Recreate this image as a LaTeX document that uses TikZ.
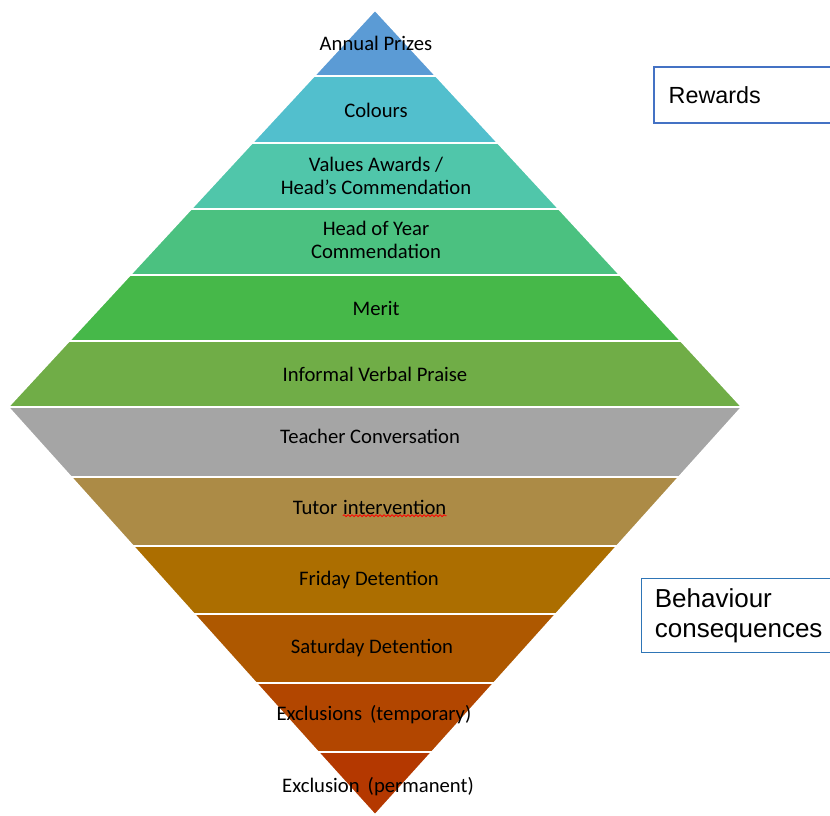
\documentclass[tikz,border=0pt]{standalone}
\usepackage{fontspec}
\setmainfont{Carlito}
\newfontfamily\arialfont{Liberation Sans}
\usetikzlibrary{positioning,decorations.pathmorphing}

\definecolor{cPrizes}{RGB}{91,155,213}
\definecolor{cColours}{RGB}{82,191,205}
\definecolor{cValues}{RGB}{80,198,170}
\definecolor{cHoy}{RGB}{75,193,128}
\definecolor{cMerit}{RGB}{70,184,73}
\definecolor{cPraise}{RGB}{112,173,71}
\definecolor{cTeacher}{RGB}{165,165,165}
\definecolor{cTutor}{RGB}{172,139,70}
\definecolor{cFriday}{RGB}{172,110,0}
\definecolor{cSaturday}{RGB}{174,88,0}
\definecolor{cTemp}{RGB}{178,70,0}
\definecolor{cPerm}{RGB}{180,56,0}
\definecolor{boxblue}{RGB}{68,114,196}
\definecolor{boxblue2}{RGB}{46,117,182}

\tikzset{
  band/.style={draw=white,line width=1.3pt},
  lbl/.style={align=center,inner sep=0pt,font=\fontsize{15.5}{17.5}\selectfont},
  keybox/.style={rectangle,draw,anchor=north west,align=left,text width=140pt,font=\arialfont},
  spellwave/.style={red,line width=0.6pt,decorate,decoration={snake,amplitude=0.7pt,segment length=3pt}}
}

\begin{document}
\begin{tikzpicture}[x=0.75pt,y=-0.75pt]
\useasboundingbox (0,0) rectangle (830,815);
\clip (0,0) rectangle (830,815);
\filldraw[band,fill=cPrizes] (375,10) -- (436,76) -- (314,76) -- cycle;
\filldraw[band,fill=cColours] (314,76) -- (436,76) -- (498,143) -- (252,143) -- cycle;
\filldraw[band,fill=cValues] (252,143) -- (498,143) -- (559,209) -- (191,209) -- cycle;
\filldraw[band,fill=cHoy] (191,209) -- (559,209) -- (620,275) -- (130,275) -- cycle;
\filldraw[band,fill=cMerit] (130,275) -- (620,275) -- (681,341) -- (69,341) -- cycle;
\filldraw[band,fill=cPraise] (69,341) -- (681,341) -- (742,407) -- (8,407) -- cycle;
\filldraw[band,fill=cTeacher] (8,407) -- (742,407) -- (679,477) -- (71,477) -- cycle;
\filldraw[band,fill=cTutor] (71,477) -- (679,477) -- (617,546) -- (133,546) -- cycle;
\filldraw[band,fill=cFriday] (133,546) -- (617,546) -- (556,614) -- (194,614) -- cycle;
\filldraw[band,fill=cSaturday] (194,614) -- (556,614) -- (494,683) -- (256,683) -- cycle;
\filldraw[band,fill=cTemp] (256,683) -- (494,683) -- (432,752) -- (318,752) -- cycle;
\filldraw[band,fill=cPerm] (318,752) -- (432,752) -- (375,815) -- cycle;

\node at (376,43) [lbl] (prizes) {Annual Prizes};
\node at (376,110) [lbl] (colours) {Colours};
\node at (376,176) [lbl] (values) {Values Awards /\\Head’s Commendation};
\node at (376,240) [lbl] (hoy) {Head of Year\\Commendation};
\node at (376,308) [lbl] (merit) {Merit};
\node at (375,374) [lbl] (praise) {Informal Verbal Praise};
\node at (370,436) [lbl] (teacher) {Teacher Conversation};
\node at (315,508) [lbl] (tutor) {Tutor};
\node [lbl,right=4pt of tutor.base east,anchor=base west] (interv) {intervention};
\draw [spellwave] ([yshift=-0.5pt]interv.south west) -- ([yshift=-0.5pt]interv.south east);
\node at (369,580) [lbl] (friday) {Friday Detention};
\node at (372,648) [lbl] (saturday) {Saturday Detention};
\node at (374,715) [lbl] (temp) {Exclusions\, (temporary)};
\node at (378,787) [lbl] (perm) {Exclusion\, (permanent)};

\node at (653,66) [keybox,draw=boxblue,line width=1.5pt,minimum height=42pt,inner xsep=11pt,
  font=\arialfont\fontsize{17.5}{21}\selectfont] (rewards) {Rewards};
\node at (641,578) [keybox,draw=boxblue2,line width=0.75pt,minimum height=55.5pt,inner xsep=10pt,
  font=\arialfont\fontsize{19.5}{22.5}\selectfont] (behaviour) {Behaviour\\consequences};
\end{tikzpicture}
\end{document}
